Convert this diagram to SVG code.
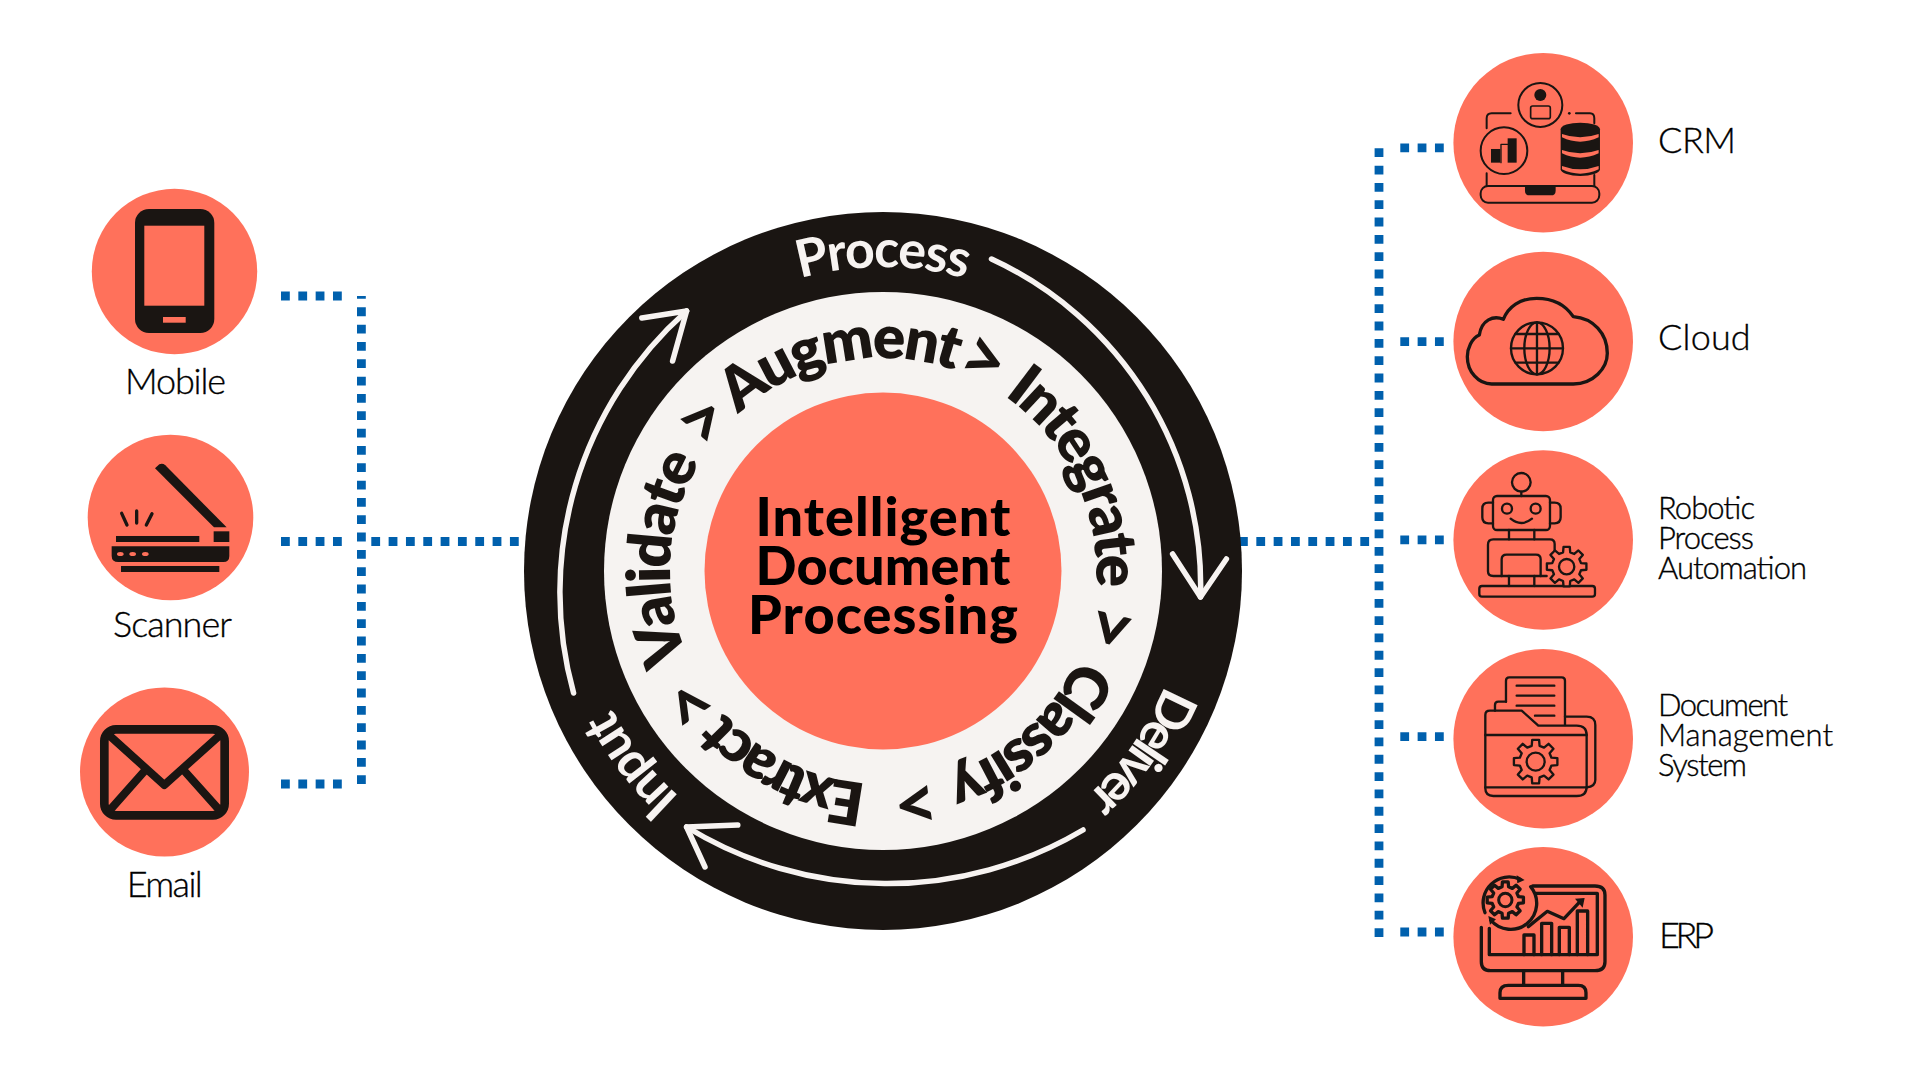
<svg xmlns="http://www.w3.org/2000/svg" width="1920" height="1080" viewBox="0 0 1920 1080">
<style>
text{font-family:"Lato","Liberation Sans",sans-serif}
.bg{fill:#fff}
.c{fill:#ff715b}
.k{fill:#1a1512}
.o{fill:none;stroke:#1a1512;stroke-linecap:round;stroke-linejoin:round}
.dot{fill:none;stroke:#0060ad;stroke-width:8.8;stroke-dasharray:8.8 8.53}
.arrow{fill:none;stroke:#f7f3f1;stroke-width:5.5;stroke-linecap:round;stroke-linejoin:round}
.lab{font-size:36px;font-weight:300;fill:#000;stroke:#000;stroke-width:.35px}
.lab2{font-size:31px;font-weight:300;fill:#000;stroke:#000;stroke-width:.35px}
.ctr{font-size:54px;font-weight:900;fill:#000;text-anchor:middle}
.ring{font-size:60px;font-weight:800;fill:#1a1512;text-anchor:middle}
.gt{font-size:76px;font-weight:700;fill:#1a1512;text-anchor:middle}
.out{font-size:52px;font-weight:700;fill:#f7f3f1;text-anchor:middle}
</style>
<defs>
<path id="pr" d="M883 784A213 213 0 1 1 883 358A213 213 0 1 1 883 784Z"/>
<path id="pg" d="M883 781A210 210 0 1 1 883 361A210 210 0 1 1 883 781Z"/>
<path id="po" d="M883 875A304 304 0 1 1 883 267A304 304 0 1 1 883 875Z"/>
<path id="gear" d="M71.8 -17.9L98.8 -15.6L98.8 15.6L71.8 17.9L63.4 38.1L80.9 58.8L58.8 80.9L38.1 63.4L17.9 71.8L15.6 98.8L-15.6 98.8L-17.9 71.8L-38.1 63.4L-58.8 80.9L-80.9 58.8L-63.4 38.1L-71.8 17.9L-98.8 15.6L-98.8 -15.6L-71.8 -17.9L-63.4 -38.1L-80.9 -58.8L-58.8 -80.9L-38.1 -63.4L-17.9 -71.8L-15.6 -98.8L15.6 -98.8L17.9 -71.8L38.1 -63.4L58.8 -80.9L80.9 -58.8L63.4 -38.1Z"/>
</defs>
<rect class="bg" width="1920" height="1080"/>
<g id="connectors">
<path class="dot" d="M281 296H345"/>
<path class="dot" d="M281 541.5H345"/>
<path class="dot" d="M281 784H345"/>
<path class="dot" d="M361.4 296V784" stroke-dashoffset="6"/>
<path class="dot" d="M371.3 541.5H524"/>
<path class="dot" d="M1379 148.3V937"/>
<path class="dot" d="M1400.3 147.8H1445"/>
<path class="dot" d="M1400.3 341.7H1445"/>
<path class="dot" d="M1400.3 539.8H1445"/>
<path class="dot" d="M1400.3 736.7H1445"/>
<path class="dot" d="M1400.3 932H1445"/>
<path class="dot" d="M1239 541.5H1370"/>
</g>
<g id="hub">
<circle class="k" cx="883" cy="571" r="359"/>
<circle cx="883" cy="571" r="279" fill="#f6f3f1"/>
<circle class="c" cx="883" cy="571" r="178.5"/>
<text class="ctr" x="883" y="536" textLength="255">Intelligent</text>
<text class="ctr" x="883" y="584.5" textLength="255">Document</text>
<text class="ctr" x="883" y="633.5" textLength="270">Processing</text>
<g id="steps">
<text class="ring" transform="rotate(-11.5 883 571)"><textPath href="#pr" startOffset="50%" textLength="232">Augment</textPath></text>
<text class="gt" transform="rotate(25.6 883 571)"><textPath href="#pg" startOffset="50%">&gt;</textPath></text>
<text class="ring" transform="rotate(64.5 883 571)"><textPath href="#pr" startOffset="50%" textLength="222">Integrate</textPath></text>
<text class="gt" transform="rotate(104 883 571)"><textPath href="#pg" startOffset="50%">&gt;</textPath></text>
<text class="ring" transform="rotate(138.5 883 571)"><textPath href="#pr" startOffset="50%" textLength="182">Classify</textPath></text>
<text class="gt" transform="rotate(172 883 571)"><textPath href="#pg" startOffset="50%">&gt;</textPath></text>
<text class="ring" transform="rotate(206.5 883 571)"><textPath href="#pr" startOffset="50%" textLength="164">Extract</textPath></text>
<text class="gt" transform="rotate(235.5 883 571)"><textPath href="#pg" startOffset="50%">&gt;</textPath></text>
<text class="ring" transform="rotate(273.5 883 571)"><textPath href="#pr" startOffset="50%" textLength="204">Validate</textPath></text>
<text class="gt" transform="rotate(310 883 571)"><textPath href="#pg" startOffset="50%">&gt;</textPath></text>
</g>
<g id="stages">
<text class="out" transform="rotate(0 883 571)"><textPath href="#po" startOffset="50%" textLength="168">Process</textPath></text>
<text class="out" transform="rotate(125 883 571)"><textPath href="#po" startOffset="50%" textLength="138">Deliver</textPath></text>
<text class="out" transform="rotate(232.5 883 571)"><textPath href="#po" startOffset="50%" textLength="112">Input</textPath></text>
</g>
<g id="cycle-arrows">
<path class="arrow" d="M991.5 259A360 360 0 0 1 1200.5 597"/>
<path class="arrow" d="M1172.6 554L1200.5 597L1226.4 559"/>
<path class="arrow" d="M1083 830A384 384 0 0 1 686.6 827"/>
<path class="arrow" d="M737.8 825L686.6 827L705 867"/>
<path class="arrow" d="M573.6 693A376 376 0 0 1 686.6 311"/>
<path class="arrow" d="M641.8 318L686.6 311L672.6 361"/>
</g>
</g>
<g id="mobile">
<circle class="c" cx="174.5" cy="271.5" r="82.7"/>
<rect class="k" x="135" y="209" width="79.3" height="124" rx="14"/>
<rect class="c" x="144.3" y="225.7" width="60" height="80"/>
<rect class="c" x="163" y="317" width="22.7" height="5.7"/>
<text class="lab" x="125" y="394" textLength="101">Mobile</text>
</g>
<g id="scanner">
<circle class="c" cx="170.5" cy="517.5" r="82.8"/>
<g transform="translate(80 430) scale(.3333)">
<path class="k" d="M225 115L238 103Q248 99 256 106L440 292H402Z"/>
<rect class="k" x="401" y="304" width="47" height="32"/>
<rect class="k" x="108" y="318" width="250" height="18"/>
<path class="k" d="M95 349H448V378Q448 396 430 396H115Q95 396 95 378Z"/>
<ellipse class="c" cx="121" cy="372" rx="10" ry="6"/><ellipse class="c" cx="158" cy="372" rx="10" ry="6"/><ellipse class="c" cx="196" cy="372" rx="10" ry="6"/>
<rect class="k" x="123" y="408" width="295" height="18"/>
<path class="o" stroke-width="10" d="M125 250L141 285M170 243V279M216 251L199 285"/>
</g>
<text class="lab" x="113" y="637" textLength="119">Scanner</text>
</g>
<g id="email">
<circle class="c" cx="164.5" cy="772" r="84.5"/>
<g transform="translate(60 670) scale(.3333)">
<rect class="o" stroke-width="26" x="133" y="178" width="361" height="258" rx="35"/>
<path class="o" stroke-width="24" d="M150 198L313 345L477 198M252 305L150 420M375 305L478 420"/>
</g>
<text class="lab" x="126.7" y="897" textLength="76">Email</text>
</g>
<g id="crm">
<circle class="c" cx="1543.2" cy="142.8" r="89.8"/>
<g transform="translate(1360 40) scale(.3333)">
<path class="o" stroke-width="6" d="M452 220H395Q380 220 380 235V265M380 400V437M648 220H690Q703 220 703 235V250M703 405V437"/>
<circle class="k" cx="628" cy="220" r="4"/>
<rect class="o" stroke-width="6" x="362" y="438" width="356" height="50" rx="22"/>
<path class="k" d="M495 440H587V452Q587 466 573 466H509Q495 466 495 452Z"/>
<circle class="o" stroke-width="6" cx="541" cy="195" r="66"/>
<circle class="k" cx="541" cy="165" r="18"/>
<rect class="o" stroke-width="5" x="512" y="198" width="59" height="38" rx="6"/>
<circle class="o" stroke-width="6" cx="432" cy="332" r="70"/>
<rect class="k" x="393" y="327" width="28" height="41"/><rect class="k" x="443" y="295" width="27" height="73"/>
<path class="o" stroke-width="4" d="M423 368V313H443"/>
<path class="k" d="M602 268V388A59 20 0 0 0 720 388V268A59 20 0 0 0 602 268Z"/>
<path class="c" d="M606 282Q660 302 716 282V292Q660 318 606 292Z"/>
<path class="c" d="M606 330Q660 350 716 330V340Q660 366 606 340Z"/>
<path class="c" d="M606 378Q660 398 716 378V388Q660 414 606 388Z"/>
</g>
<text class="lab" x="1658" y="153.3" textLength="78">CRM</text>
</g>
<g id="cloud">
<circle class="c" cx="1543.2" cy="341.5" r="89.8"/>
<g transform="translate(1360 40) scale(.3333)">
<path class="o" stroke-width="10" d="M395 1032H640C700 1032 742 985 742 940C742 880 700 835 640 830C620 800 590 775 530 775C480 775 445 800 430 838C400 825 365 840 358 885C335 895 322 925 322 950C322 995 355 1032 395 1032Z"/>
<circle class="o" stroke-width="7" cx="531" cy="925" r="78"/>
<ellipse class="o" stroke-width="7" cx="531" cy="925" rx="38" ry="78"/>
<path class="o" stroke-width="7" d="M531 847V1003M453 925H609M467 882H595M467 968H595"/>
</g>
<text class="lab" x="1658" y="350" textLength="92.7">Cloud</text>
</g>
<g id="rpa">
<circle class="c" cx="1543.2" cy="540" r="89.8"/>
<g transform="translate(1360 440) scale(.3333)">
<g class="o" stroke-width="7">
<circle cx="484" cy="127" r="28"/>
<path d="M484 155V168"/>
<rect x="399" y="168" width="171" height="102" rx="12"/>
<path d="M399 188H385Q367 188 367 206V232Q367 250 385 250H399M570 188H584Q602 188 602 206V232Q602 250 584 250H570"/>
<circle cx="441" cy="206" r="15"/><circle cx="527" cy="206" r="15"/>
<path d="M452 236Q484 262 516 236"/>
<path d="M447 270V298M523 270V298"/>
<path d="M584 335V312Q584 298 570 298H400Q384 298 384 314V394Q384 408 400 408H560"/>
<path d="M425 408V358Q425 344 440 344H528Q542 344 542 358V408"/>
<path d="M447 408V438M523 408V438"/>
<rect x="358" y="438" width="347" height="32" rx="8"/>
</g>
<use href="#gear" class="c" transform="translate(620 380) scale(.6)" style="stroke:#1a1512;stroke-width:11.7;stroke-linejoin:round"/>
<circle class="o" stroke-width="7" cx="620" cy="380" r="23"/>
</g>
<text class="lab2" x="1658" y="519" textLength="97">Robotic</text>
<text class="lab2" x="1658" y="549" textLength="96">Process</text>
<text class="lab2" x="1658" y="579" textLength="149">Automation</text>
</g>
<g id="dms">
<circle class="c" cx="1543.2" cy="738.7" r="89.8"/>
<g transform="translate(1360 440) scale(.3333)">
<g class="o" stroke-width="7">
<path d="M438 785V722Q438 712 448 712H605Q615 712 615 722V855"/>
<path d="M470 737H583M470 767H583M470 797H583M525 827H583"/>
<path d="M438 785H415Q405 785 405 795V812"/>
<path d="M615 830H680Q706 830 706 855V1020Q706 1040 680 1042"/>
<path d="M376 825Q376 812 390 812H485L535 857H650Q680 857 680 885V1040Q680 1068 650 1068H400Q376 1068 376 1045Z"/>
<path d="M376 885H680M376 1042H680"/>
</g>
<use href="#gear" class="c" transform="translate(527 965) scale(.66)" style="stroke:#1a1512;stroke-width:10.6;stroke-linejoin:round"/>
<circle class="o" stroke-width="7" cx="527" cy="965" r="27"/>
</g>
<text class="lab2" x="1658" y="716" textLength="130">Document</text>
<text class="lab2" x="1658" y="746" textLength="175">Management</text>
<text class="lab2" x="1658" y="776" textLength="89">System</text>
</g>
<g id="erp">
<circle class="c" cx="1543.2" cy="936.7" r="89.8"/>
<g transform="translate(1360 840) scale(.3333)">
<g class="o" stroke-width="10">
<path d="M518 138H705Q735 138 735 165V365Q735 392 705 392H392Q364 392 364 365V262"/>
<path d="M527 160H712V344H388V265"/>
<path d="M491 392V432M608 392V432"/>
<path d="M420 475V458Q420 436 445 436H655Q678 436 678 458V475Z"/>
<path d="M492 344V285H522V344M545 344V250H575V344M598 344V262H628V344M652 344V213H683V344"/>
<path d="M505 260L562 214L612 236L660 185"/>
<path d="M480 118A78 78 0 0 0 375 218M392 240A78 78 0 0 0 512 140"/>
</g>
<path class="k" d="M645 176L674 174L668 203ZM470 106L494 120L472 130ZM385 228L408 238L390 254Z"/>
<use href="#gear" class="c" transform="translate(436 180) scale(.55)" style="stroke:#1a1512;stroke-width:18;stroke-linejoin:round"/>
<circle class="o" stroke-width="9" cx="436" cy="180" r="20"/>
</g>
<text class="lab" x="1659" y="947.7" textLength="55">ERP</text>
</g>
</svg>
